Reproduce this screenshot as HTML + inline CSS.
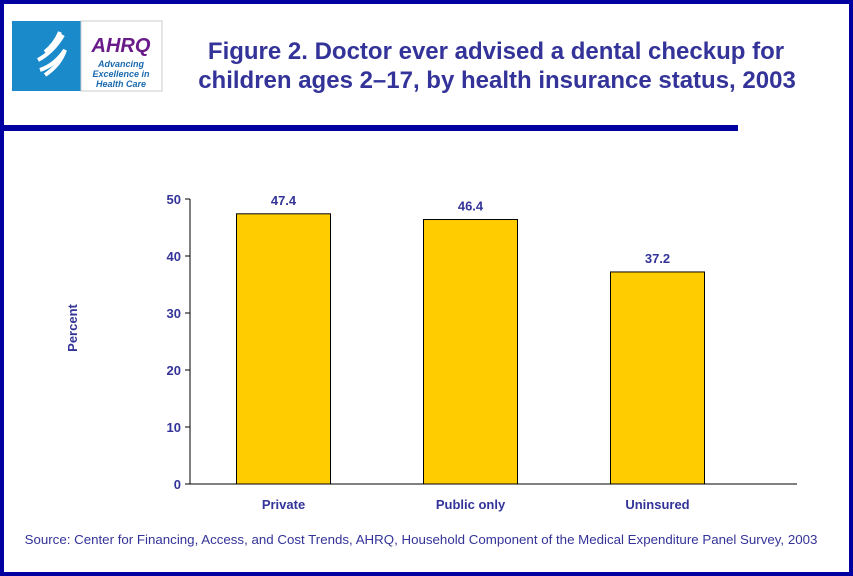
<!DOCTYPE html>
<html><head><meta charset="utf-8"><style>
body{margin:0;width:853px;height:576px;overflow:hidden;background:#fff;font-family:"Liberation Sans",Arial,sans-serif}
#frame{position:absolute;left:0;top:0;width:845px;height:568px;border:4px solid #0000a0;background:#fff}
</style></head><body>
<div id="frame"></div>
<svg width="853" height="576" style="position:absolute;left:0;top:0">
<g>
<rect x="12" y="21" width="69" height="70" fill="#1a8acb"/>
<path d="M40 70 q15 -5 25 -20 q-5 15 -20 25 M38 60 q15 -8 25 -25 M45 52 q10 -8 15 -20" stroke="#fff" stroke-width="4" fill="none"/>
<rect x="81" y="21" width="81" height="70" fill="#fff" stroke="#ccc"/>
<text x="121" y="52" font-size="20" font-weight="bold" font-style="italic" fill="#6a1b8a" text-anchor="middle">AHRQ</text>
<text x="121" y="67" font-size="9" font-style="italic" font-weight="bold" fill="#1a6ab0" text-anchor="middle">Advancing</text>
<text x="121" y="77" font-size="9" font-style="italic" font-weight="bold" fill="#1a6ab0" text-anchor="middle">Excellence in</text>
<text x="121" y="87" font-size="9" font-style="italic" font-weight="bold" fill="#1a6ab0" text-anchor="middle">Health Care</text>
</g>
<text x="496" y="59" font-size="24" font-weight="bold" fill="#333399" text-anchor="middle">Figure 2. Doctor ever advised a dental checkup for</text>
<text x="497" y="88" font-size="24" font-weight="bold" fill="#333399" text-anchor="middle">children ages 2–17, by health insurance status, 2003</text>
<rect x="4" y="125" width="734" height="6" fill="#0000a0"/>
<text transform="translate(77,328) rotate(-90)" font-size="13" font-weight="bold" fill="#333399" text-anchor="middle">Percent</text>
<g id="plot"></g>
<text x="421" y="544" font-size="13.3" fill="#333399" text-anchor="middle">Source: Center for Financing, Access, and Cost Trends, AHRQ, Household Component of the Medical Expenditure Panel Survey, 2003</text>
</svg>
<script>
const categories=["Private","Public only","Uninsured"];
const values=[47.4,46.4,37.2];
const valueLabels=["47.4","46.4","37.2"];
const ticks=[0,10,20,30,40,50];
const NS="http://www.w3.org/2000/svg";
const g=document.getElementById('plot');
const y=v=>484-v*5.7;
const x0=190,bandW=187;
const xc=i=>x0+bandW*(i+0.5);
function mk(t,a){const e=document.createElementNS(NS,t);for(const k in a)e.setAttribute(k,a[k]);g.appendChild(e);return e;}
ticks.forEach(t=>{
 const l=mk('line',{x1:185,x2:190,y1:y(t),y2:y(t),stroke:'#000'});
 
 
 const tx=mk('text',{x:181,y:y(t)+5,'font-size':13,'font-weight':'bold',fill:'#333399','text-anchor':'end'});
 tx.textContent=t;
 
 
});
values.forEach((v,i)=>{
 const r=mk('rect',{x:xc(i)-47,y:y(v),width:94,height:484-y(v),fill:'#ffcc00',stroke:'#000'});
 
 
 const vl=mk('text',{x:xc(i),y:y(v)-9,'font-size':13,'font-weight':'bold',fill:'#333399','text-anchor':'middle'});
 vl.textContent=valueLabels[i];
 
 
 const cl=mk('text',{x:xc(i),y:509,'font-size':13,'font-weight':'bold',fill:'#333399','text-anchor':'middle'});
 cl.textContent=categories[i];
 
 
});
const ya=mk('line',{x1:190,x2:190,y1:y(50),y2:484,stroke:'#000'});


const xa=mk('line',{x1:190,x2:797,y1:484,y2:484,stroke:'#000'});


</script>
</body></html>
